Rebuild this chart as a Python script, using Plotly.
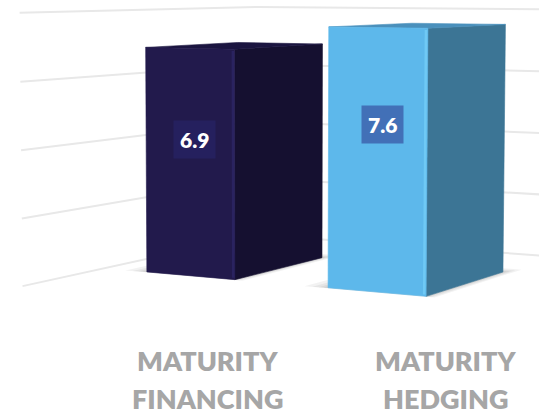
import numpy as np
import plotly.graph_objects as go

# ---------------- data ----------------
categories = ["MATURITY<br>FINANCING", "MATURITY<br>HEDGING"]
values = [6.9, 7.6]
value_gridlines = [0, 2, 4, 6, 8]

# ---------------- styles ----------------
front_colors = ["#221A4C", "#5DB8EB"]
side_colors = ["#151030", "#3C7595"]
top_colors = ["#1B1540", "#4A90BC"]
edge_colors = ["#2A2360", "#6FC9F5"]
label_colors = ["#25205E", "#4270B7"]
grid_color = "#E8E8E8"
axis_text_color = "#A6A6A6"

W, H = 539, 416

# ---------------- scene geometry (world units, 1 = one unit of value) ----------------
SLOT = 6.33            # width of one category slot
BAR_W = 3.16           # column width
BAR_D = 5.46           # column depth
FLOOR_FRONT = -4.2     # floor extent along the depth axis
FLOOR_BACK = 9.46
GAP = SLOT - BAR_W
FLOOR_LEFT = -GAP / 2
FLOOR_RIGHT = len(values) * SLOT - GAP / 2
LABEL_DROP = 2.75      # value labels sit this far below the column top

# ---------------- perspective camera ----------------
FOCAL = 2000.0
YAW = np.radians(30.0)
PITCH = np.radians(4.9)
CAM = np.array([33.76, 8.99, -50.9])
CX, CY = 270.0, 150.0

FWD = np.array([-np.sin(YAW) * np.cos(PITCH), -np.sin(PITCH), np.cos(YAW) * np.cos(PITCH)])
RIGHT = np.array([np.cos(YAW), 0.0, np.sin(YAW)])
UP = np.array([-np.sin(YAW) * np.sin(PITCH), np.cos(PITCH), np.cos(YAW) * np.sin(PITCH)])


def project(pts):
    """Project world points (N x 3) onto the canvas."""
    p = np.asarray(pts, dtype=float) - CAM
    xc, yc, zc = p @ RIGHT, p @ UP, p @ FWD
    return CX + FOCAL * xc / zc, CY - FOCAL * yc / zc


def polygon(pts, color, opacity=1.0, line_w=0.6):
    sx, sy = project(pts)
    return go.Scatter(
        x=np.append(sx, sx[0]), y=np.append(sy, sy[0]),
        mode="lines", fill="toself", fillcolor=color, opacity=opacity,
        line=dict(color=color, width=line_w), hoverinfo="skip", showlegend=False,
    )


fig = go.Figure()

# wall gridlines: left side wall, then back wall
for v in value_gridlines:
    sx, sy = project([[FLOOR_LEFT, v, FLOOR_FRONT],
                      [FLOOR_LEFT, v, FLOOR_BACK],
                      [FLOOR_RIGHT, v, FLOOR_BACK]])
    fig.add_trace(go.Scatter(x=sx, y=sy, mode="lines",
                             line=dict(color=grid_color, width=2),
                             hoverinfo="skip", showlegend=False))

# soft shadows under the columns
for i, v in enumerate(values):
    x0, x1 = i * SLOT, i * SLOT + BAR_W
    for m in (0.75, 0.5, 0.3, 0.15):
        fig.add_trace(polygon([[x0 - m, 0, -0.1 * m], [x1 + 0.4 * m, 0, -0.1 * m],
                               [x1 + 0.4 * m, 0, BAR_D + m], [x0 - m, 0, BAR_D + m]],
                              "#000000", opacity=0.05, line_w=0))

# columns
for i, v in enumerate(values):
    x0, x1 = i * SLOT, i * SLOT + BAR_W
    z0, z1 = 0.0, BAR_D
    fig.add_trace(polygon([[x1, 0, z0], [x1, 0, z1], [x1, v, z1], [x1, v, z0]], side_colors[i]))
    fig.add_trace(polygon([[x0, v, z0], [x1, v, z0], [x1, v, z1], [x0, v, z1]], top_colors[i]))
    fig.add_trace(polygon([[x0, 0, z0], [x1, 0, z0], [x1, v, z0], [x0, v, z0]], front_colors[i]))
    ex, ey = project([[x1 - 0.06, 0.05, z0], [x1 - 0.06, v - 0.05, z0]])
    fig.add_trace(go.Scatter(x=ex, y=ey, mode="lines",
                             line=dict(color=edge_colors[i], width=2.5),
                             hoverinfo="skip", showlegend=False))

    # value label on the front face, near the column top
    lx, ly = project([[x0 + 0.555 * BAR_W, v - LABEL_DROP, z0]])
    fig.add_annotation(x=lx[0], y=ly[0], xref="x", yref="y", text=f"{v:.1f}",
                       showarrow=False, bgcolor=label_colors[i], borderpad=6,
                       font=dict(family="Lato", size=21, color="white", weight=800))

# category axis: one slot per category, two-line labels below the floor
fig.add_trace(go.Scatter(x=[0, 1], y=[None, None], xaxis="x2", yaxis="y",
                         hoverinfo="skip", showlegend=False))
label_line_y = [360, 398.5]
for i, cat in enumerate(categories):
    for line, ypos in zip(cat.split("<br>"), label_line_y):
        fig.add_annotation(x=i, y=ypos, xref="x2", yref="y", text=line,
                           showarrow=False, xanchor="center", yanchor="middle",
                           borderpad=0,
                           font=dict(family="Lato", size=27, color=axis_text_color,
                                     weight=800))

fig.update_layout(
    width=W, height=H,
    margin=dict(l=0, r=0, t=0, b=0),
    paper_bgcolor="white", plot_bgcolor="white",
    showlegend=False,
    xaxis=dict(range=[0, W], visible=False, fixedrange=True),
    yaxis=dict(range=[H, 0], visible=False, fixedrange=True),
    xaxis2=dict(overlaying="x", anchor="free", position=0.0, side="bottom",
                range=[-0.870, 1.395], visible=False, fixedrange=True),
)

fig.write_html("out.html", config={"displayModeBar": False})
